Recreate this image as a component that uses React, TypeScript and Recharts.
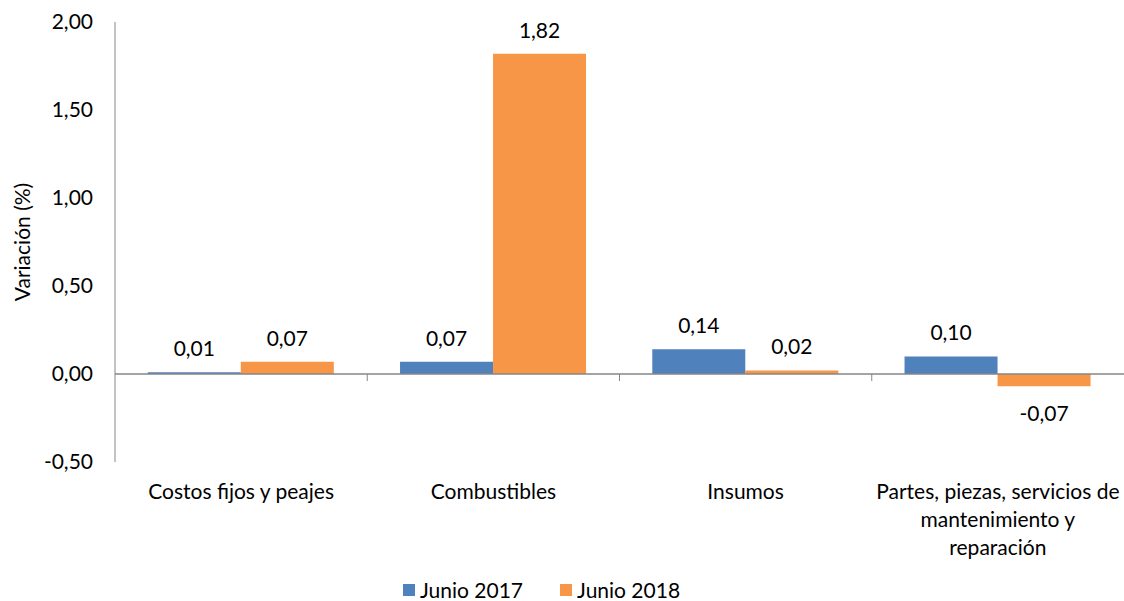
import React from 'react';
import { BarChart, Bar, XAxis, YAxis, ReferenceLine, LabelList } from 'recharts';

const categories = [
  'Costos fijos y peajes',
  'Combustibles',
  'Insumos',
  'Partes, piezas, servicios de\nmantenimiento y\nreparación',
];
const junio2017 = [0.01, 0.07, 0.14, 0.1];
const junio2018 = [0.07, 1.82, 0.02, -0.07];
const yTicks = [-0.5, 0, 0.5, 1, 1.5, 2];

const W = 1124;
const H = 601;
const M = { top: 22, right: 0, bottom: 109, left: 0 };
const X_AXIS_H = 30;
const AXIS_W = 115;
const FS = 21;
const FONT = 'Lato, "Open Sans", sans-serif';
const BLUE = '#4F81BD';
const ORANGE = '#F79646';
const GRID = '#868686';

const data = categories.map((name, i) => ({
  name,
  j2017: junio2017[i],
  j2018: junio2018[i],
}));

const fmt = (v: number) => v.toFixed(2).replace('.', ',');

const yMin = yTicks[0];
const yMax = yTicks[yTicks.length - 1];
const plotH = H - M.top - M.bottom - X_AXIS_H;
const zeroY = M.top + ((yMax - 0) / (yMax - yMin)) * plotH;
const bandW = (W - AXIS_W - M.right) / categories.length;

const CatTick = (props: any) => {
  const { x, y, payload, index } = props;
  const lines = String(payload.value).split('\n');
  return (
    <g>
      {index < categories.length - 1 && (
        <line x1={x + bandW / 2} x2={x + bandW / 2} y1={zeroY} y2={zeroY + 7} stroke={GRID} strokeWidth={1} />
      )}
      {lines.map((l, i) => (
        <text key={i} x={x} y={y + 37 + i * 28} textAnchor="middle" fontSize={FS} fill="#000">
          {l}
        </text>
      ))}
    </g>
  );
};

const ValueLabel = (props: any) => {
  const { x, y, width, height, value } = props;
  const top = Math.min(y, y + height);
  const bottom = Math.max(y, y + height);
  const cx = x + width / 2;
  const ty = value >= 0 ? top - 16 : bottom + 35;
  return (
    <text x={cx} y={ty} textAnchor="middle" fontSize={FS} fill="#000">
      {fmt(value)}
    </text>
  );
};

const AxisTitle = () => {
  const cy = M.top + plotH / 2;
  return (
    <text x={0} y={0} transform={`translate(30, ${cy}) rotate(-90)`} textAnchor="middle" fontSize={FS} fill="#000">
      Variación (%)
    </text>
  );
};

const LegendBox = () => {
  const items = [
    { label: 'Junio 2017', color: BLUE },
    { label: 'Junio 2018', color: ORANGE },
  ];
  return (
    <div style={{ position: 'absolute', left: 403, top: 579, display: 'flex', gap: 37, fontSize: FS, lineHeight: '22px', fontFamily: FONT }}>
      {items.map((it) => (
        <div key={it.label} style={{ display: 'flex', alignItems: 'center' }}>
          <span style={{ width: 12, height: 12, background: it.color, marginRight: 5, display: 'inline-block' }} />
          <span>{it.label}</span>
        </div>
      ))}
    </div>
  );
};

export default function App() {
  return (
    <div style={{ position: 'absolute', left: 0, top: 0, width: W, height: H, background: '#fff', fontFamily: FONT, overflow: 'hidden' }}>
      <BarChart width={W} height={H} data={data} margin={M} barCategoryGap="13%" barGap={0}>
        <XAxis
          dataKey="name"
          height={X_AXIS_H}
          axisLine={false}
          tickLine={false}
          tickSize={0}
          tickMargin={0}
          interval={0}
          tick={<CatTick />}
        />
        <YAxis
          width={AXIS_W}
          domain={[yMin, yMax]}
          ticks={yTicks}
          interval={0}
          tickFormatter={fmt}
          tickLine={false}
          tickSize={6}
          tickMargin={16}
          axisLine={{ stroke: GRID }}
          tick={{ fontSize: FS, fill: '#000' }}
          label={<AxisTitle />}
        />
        <ReferenceLine y={0} stroke={GRID} strokeWidth={1.5} />
        <Bar dataKey="j2017" name="Junio 2017" fill={BLUE} isAnimationActive={false}>
          <LabelList dataKey="j2017" content={<ValueLabel />} />
        </Bar>
        <Bar dataKey="j2018" name="Junio 2018" fill={ORANGE} isAnimationActive={false}>
          <LabelList dataKey="j2018" content={<ValueLabel />} />
        </Bar>
      </BarChart>
      <LegendBox />
    </div>
  );
}
